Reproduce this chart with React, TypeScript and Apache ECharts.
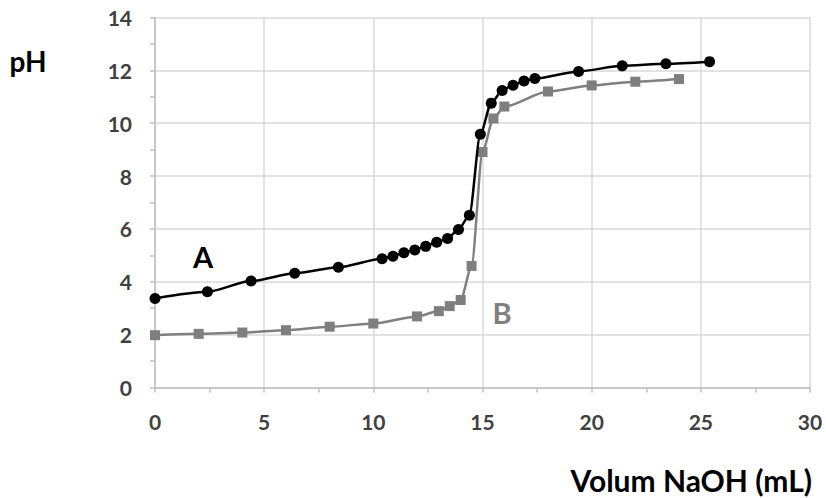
import { useEffect, useRef } from 'react'
import * as echarts from 'echarts'

// curve A: volume NaOH (mL) and pH
const volA = [0, 2.4, 4.4, 6.4, 8.4, 10.4, 10.9, 11.4, 11.9, 12.4, 12.9, 13.4, 13.9, 14.4, 14.9, 15.4, 15.9, 16.4, 16.9, 17.4, 19.4, 21.4, 23.4, 25.4]
const phA = [3.37, 3.62, 4.03, 4.32, 4.55, 4.87, 4.97, 5.1, 5.2, 5.34, 5.5, 5.64, 5.98, 6.52, 9.58, 10.76, 11.24, 11.44, 11.6, 11.69, 11.96, 12.17, 12.25, 12.33]

// curve B
const volB = [0, 2, 4, 6, 8, 10, 12, 13, 13.5, 14, 14.5, 15, 15.5, 16, 18, 20, 22, 24]
const phB = [1.98, 2.03, 2.08, 2.17, 2.3, 2.42, 2.69, 2.89, 3.08, 3.31, 4.6, 8.91, 10.18, 10.63, 11.2, 11.43, 11.57, 11.67]

const FONT = 'Lato, "Open Sans", sans-serif'
const LABEL = '#404040'
const GRID = '#d9d9d9'
const AXIS = '#bfbfbf'

export default function App() {
  const ref = useRef<HTMLDivElement>(null)

  useEffect(() => {
    if (!ref.current) {
      return
    }
    const chart = echarts.init(ref.current, undefined, { renderer: 'svg' })

    const tick = { show: true, inside: false, length: 5, lineStyle: { color: AXIS, width: 1.5 } }
    const minor = { show: true, splitNumber: 2, length: 5, lineStyle: { color: AXIS, width: 1.5 } }

    chart.setOption({
      animation: false,
      backgroundColor: '#ffffff',
      grid: { left: 155, right: 16, top: 17.5, bottom: 110.5, containLabel: false },
      xAxis: {
        type: 'value',
        min: 0,
        max: 30,
        interval: 5,
        axisLine: { show: true, lineStyle: { color: AXIS, width: 1.5 } },
        axisTick: tick,
        minorTick: minor,
        splitLine: { show: true, lineStyle: { color: GRID, width: 1.5 } },
        axisLabel: { color: LABEL, fontFamily: FONT, fontWeight: 'bold', fontSize: 21, margin: 23 },
      },
      yAxis: {
        type: 'value',
        min: 0,
        max: 14,
        interval: 2,
        axisLine: { show: true, lineStyle: { color: AXIS, width: 1.5 } },
        axisTick: tick,
        minorTick: minor,
        splitLine: { show: true, lineStyle: { color: GRID, width: 1.5 } },
        axisLabel: { color: LABEL, fontFamily: FONT, fontWeight: 'bold', fontSize: 21, margin: 23, padding: [7, 0, 0, 0] },
      },
      series: [
        {
          name: 'A',
          type: 'line',
          data: volA.map((v, i) => [v, phA[i]]),
          smooth: 0.25,
          smoothMonotone: 'x',
          symbol: 'circle',
          symbolSize: 11,
          itemStyle: { color: '#000000' },
          lineStyle: { color: '#000000', width: 2.5 },
          z: 3,
        },
        {
          name: 'B',
          type: 'line',
          data: volB.map((v, i) => [v, phB[i]]),
          smooth: 0.25,
          smoothMonotone: 'x',
          symbol: 'rect',
          symbolSize: 10,
          itemStyle: { color: '#7f7f7f' },
          lineStyle: { color: '#7f7f7f', width: 2.5 },
          z: 2,
        },
      ],
      graphic: [
        {
          type: 'text',
          x: 28,
          y: 61,
          style: { text: 'pH', fontFamily: FONT, fontWeight: 'bold', fontSize: 28, fill: '#000', align: 'center', verticalAlign: 'middle' },
        },
        {
          type: 'text',
          x: 203,
          y: 256,
          style: { text: 'A', fontFamily: FONT, fontWeight: 'bold', fontSize: 29, fill: '#000', align: 'center', verticalAlign: 'middle' },
        },
        {
          type: 'text',
          x: 502,
          y: 312,
          style: { text: 'B', fontFamily: FONT, fontWeight: 'bold', fontSize: 29, fill: '#7f7f7f', align: 'center', verticalAlign: 'middle' },
        },
        {
          type: 'text',
          x: 812,
          y: 480,
          style: { text: 'Volum NaOH (mL)', fontFamily: FONT, fontWeight: 'bold', fontSize: 30, fill: '#000', align: 'right', verticalAlign: 'middle' },
        },
      ],
    })

    return () => {
      chart.dispose()
    }
  }, [])

  return (
    <div
      ref={ref}
      role="img"
      aria-label="pH titration curves A and B"
      style={{ position: 'fixed', left: 0, top: 0, width: 826, height: 498, background: '#fff' }}
    />
  )
}
